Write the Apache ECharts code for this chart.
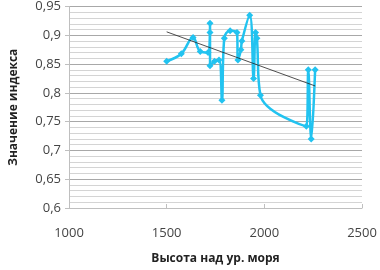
<!DOCTYPE html>
<html><head><meta charset="utf-8">
<script src="https://cdn.jsdelivr.net/npm/echarts@6/dist/echarts.min.js"></script>
<style>html,body{margin:0;padding:0;background:#fff}#c{width:380px;height:270px}</style>
</head><body><div id="c"></div>
<script>
const altitude = [1500,1575,1635,1672,1712,1722,1722,1722,1745,1768,1783,1795,1825,1860,1865,1880,1885,1925,1945,1955,1962,1980,2215,2225,2240,2260];
const indexValue = [0.855,0.868,0.896,0.872,0.870,0.921,0.905,0.847,0.855,0.857,0.787,0.895,0.908,0.905,0.857,0.875,0.890,0.935,0.825,0.905,0.895,0.796,0.742,0.840,0.720,0.840];
const trendX = [1500, 2260];
const trendY = [0.906, 0.812];
const xTicks = [1000, 1500, 2000, 2500];
const yTicks = [0.6, 0.65, 0.7, 0.75, 0.8, 0.85, 0.9, 0.95];

const chart = echarts.init(document.getElementById('c'), null, {renderer:'canvas'});
const font = 'Open Sans';
chart.setOption({
  animation:false,
  grid:{left:65, right:18, top:6, bottom:55},
  xAxis:{type:'value', min:xTicks[0], max:xTicks[xTicks.length-1], interval:500,
    name:'Высота над ур. моря', nameLocation:'middle', nameGap:45,
    nameTextStyle:{fontFamily:font, fontWeight:'bold', fontSize:12, color:'#222'},
    axisLine:{show:true, lineStyle:{color:'#bfbfbf'}},
    axisTick:{show:true, inside:true, length:4, lineStyle:{color:'#bfbfbf'}},
    axisLabel:{fontFamily:font, fontSize:13, color:'#444', margin:19, formatter:v=>String(v)},
    splitLine:{show:false}},
  yAxis:{type:'value', min:yTicks[0], max:yTicks[yTicks.length-1], interval:0.05,
    name:'Значение индекса', nameLocation:'middle', nameGap:49, nameRotate:90,
    nameTextStyle:{fontFamily:font, fontWeight:'bold', fontSize:12, color:'#222'},
    axisLine:{show:true, lineStyle:{color:'#bfbfbf'}},
    axisTick:{show:true, length:4, lineStyle:{color:'#bfbfbf'}},
    axisLabel:{fontFamily:font, fontSize:13, color:'#444', margin:8,
      formatter:v=>String(+v.toFixed(2)).replace('.',',')},
    splitLine:{show:true, lineStyle:{color:'#a8a8a8', width:1}},
    minorTick:{show:false, splitNumber:5},
    minorSplitLine:{show:true, lineStyle:{color:'#d4d4d4', width:1}}},
  series:[
    {type:'line', data:altitude.map((x,i)=>[x,indexValue[i]]), smooth:0.4,
      symbol:'diamond', symbolSize:7, color:'#22c3f0',
      lineStyle:{width:2.5, color:'#22c3f0'}, itemStyle:{color:'#22c3f0'}, z:3},
    {type:'line', data:trendX.map((x,i)=>[x,trendY[i]]), symbol:'none',
      lineStyle:{width:0.8, color:'#222'}, z:4}
  ]
});
</script></body></html>
